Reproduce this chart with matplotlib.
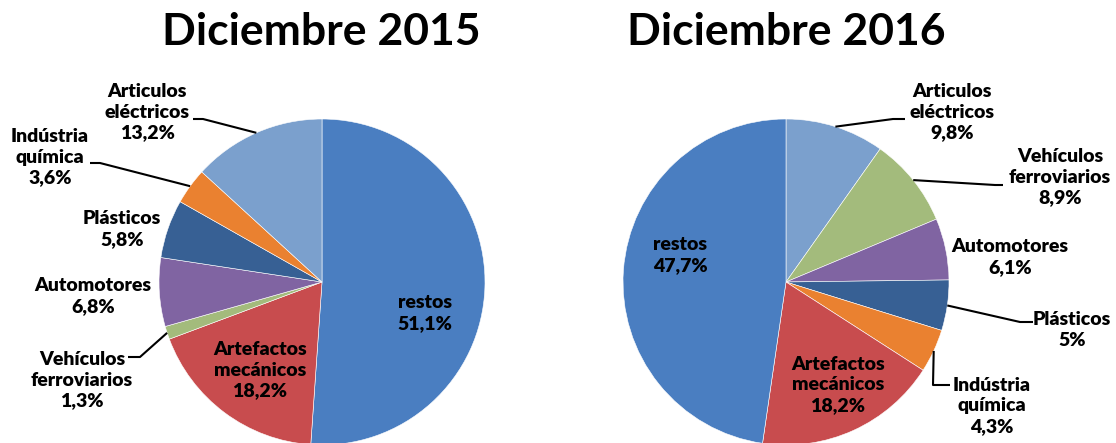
import numpy as np
import matplotlib.pyplot as plt

W, H = 1116, 443

# data (percent shares), listed clockwise from 12 o'clock
labels_2015 = ["restos", "Artefactos\nmecánicos", "Vehículos\nferroviarios",
               "Automotores", "Plásticos", "Indústria\nquímica", "Articulos\neléctricos"]
values_2015 = [51.1, 18.2, 1.3, 6.8, 5.8, 3.6, 13.2]

labels_2016 = ["Articulos\neléctricos", "Vehículos\nferroviarios", "Automotores",
               "Plásticos", "Indústria\nquímica", "Artefactos\nmecánicos", "restos"]
values_2016 = [9.8, 8.9, 6.1, 5.0, 4.3, 18.2, 47.7]

titles = ["Diciembre 2015", "Diciembre 2016"]

colors = {
    "restos": "#4A7EC1",
    "Artefactos": "#C84C4E",
    "Vehículos": "#A3BB7C",
    "Automotores": "#8064A2",
    "Plásticos": "#376094",
    "Indústria": "#EA8130",
    "Articulos": "#7BA0CD",
}

plt.rcParams['font.family'] = ['Lato', 'DejaVu Sans']


def px(x, y):
    # pixel position (from top-left) -> data coords
    return x, H - y


def pct(v):
    return ('%g' % v).replace('.', ',') + '%'


# layout: pie centre / radius, label centres and leader knees in pixels
pies = [
    dict(labels=labels_2015, values=values_2015, center=(322, 282), title_x=321,
         text_pos=[(425, 313), (260, 370), (82, 380), (93, 296), (122, 229), (50, 157), (147, 112)],
         leaders={2: [(128, 357), (140, 357)], 5: [(90, 163), (100, 163)], 6: [(193, 119), (203, 119)]}),
    dict(labels=labels_2016, values=values_2016, center=(786, 282), title_x=786,
         text_pos=[(952, 112), (1060, 177), (1010, 257), (1072, 330), (992, 406), (838, 385), (680, 255)],
         leaders={0: [(905, 119), (893, 119)], 1: [(1003, 185), (995, 185)],
                  3: [(1033, 322), (1020, 322)], 4: [(950, 385), (933, 385)]}),
]
R = 163

fig = plt.figure(figsize=(W / 100, H / 100), dpi=100)
ax = fig.add_axes([0, 0, 1, 1])

for p in pies:
    cols = [colors[l.split("\n")[0]] for l in p["labels"]]
    wedges, _ = ax.pie(p["values"], colors=cols, startangle=90, counterclock=False,
                       center=px(*p["center"]), radius=R,
                       wedgeprops=dict(edgecolor="white", linewidth=0.4))
    cx, cy = px(*p["center"])
    for i, (lab, v) in enumerate(zip(p["labels"], p["values"])):
        tx, ty = px(*p["text_pos"][i])
        ax.text(tx, ty, lab + "\n" + pct(v), ha="center", va="center",
                fontsize=14, fontweight="heavy", linespacing=1.25)
        if i in p["leaders"]:
            w = wedges[i]
            mid = np.deg2rad((w.theta1 + w.theta2) / 2)
            ex, ey = cx + R * np.cos(mid), cy + R * np.sin(mid)
            pts = [px(*q) for q in p["leaders"][i]] + [(ex, ey)]
            ax.plot(*zip(*pts), color="black", lw=1.5, solid_capstyle="butt")
    tx, ty = px(p["title_x"], 32)
    ax.text(tx, ty, titles[pies.index(p)], ha="center", va="center",
            fontsize=32, fontweight="bold")

ax.set_xlim(0, W)
ax.set_ylim(0, H)
ax.set_aspect("auto")
ax.axis("off")

fig.savefig("out.png", dpi=100)
